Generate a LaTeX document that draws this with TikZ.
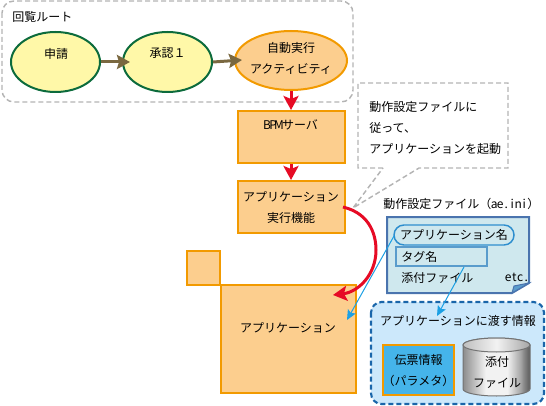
\documentclass[tikz,border=0pt]{standalone}
\usepackage{fontspec}
\setmainfont{Noto Sans CJK JP}
\usetikzlibrary{arrows.meta,shapes.geometric,calc}
\newcommand{\hw}[1]{\makebox[4.5pt][c]{#1}}
\definecolor{orangeline}{HTML}{F29A00}
\definecolor{orangefill}{HTML}{FCCE8E}
\definecolor{greenline}{HTML}{0C6B3C}
\definecolor{yellowfill}{HTML}{FFF8A8}
\definecolor{brownline}{HTML}{7A6840}
\definecolor{redline}{HTML}{E60B25}
\definecolor{grayline}{HTML}{B4B4B4}
\definecolor{notefill}{HTML}{CFE8EE}
\definecolor{noteline}{HTML}{4A74AE}
\definecolor{tagline}{HTML}{5A9CCC}
\definecolor{infofill}{HTML}{CCE8FB}
\definecolor{infoline}{HTML}{1A66AA}
\definecolor{paramfill}{HTML}{45B4EA}
\definecolor{thinblue}{HTML}{1CA0E4}
\pgfdeclarehorizontalshading{cylbody}{100bp}{
  color(0bp)=(black!45); color(25bp)=(black!45); color(42bp)=(black!5); color(58bp)=(black!5); color(68bp)=(black!35); color(70bp)=(black!45); color(75bp)=(black!65); color(100bp)=(black!20)}
\pgfdeclarehorizontalshading{cyltop}{100bp}{
  color(0bp)=(black!25); color(25bp)=(black!25); color(50bp)=(black!5); color(75bp)=(black!35); color(100bp)=(black!35)}
\tikzset{
  txt/.style={font=\fontsize{9pt}{15.75pt}\selectfont,text=black,inner sep=0pt,align=center},
  lefttxt/.style={txt,anchor=west,align=left},
  flowball/.style={ellipse,draw=greenline,fill=yellowfill,line width=1.5pt,inner sep=0pt,minimum width=66.75pt,minimum height=45pt},
  autoball/.style={ellipse,draw=orangeline,fill=orangefill,line width=1.5pt,inner sep=0pt,minimum width=84pt,minimum height=44.25pt},
  procbox/.style={rectangle,draw=orangeline,fill=orangefill,line width=1.5pt,inner sep=0pt},
  brownarrow/.style={draw=brownline,line width=2.25pt,-{Stealth[length=9.75pt,width=10.5pt,inset=1.5pt]}},
  redarrow/.style={draw=redline,line width=2.25pt,-{Stealth[length=10.5pt,width=11.25pt,inset=2.25pt]}},
  bluearrow/.style={draw=thinblue,line width=0.75pt,-{Stealth[length=7.5pt,width=6.75pt,inset=1.5pt]}},
  graydash/.style={draw=grayline,line width=1.1pt,dash pattern=on 3.75pt off 2.25pt},
}
\begin{document}
\begin{tikzpicture}[x=0.75pt,y=-0.75pt]
\useasboundingbox (0,0) rectangle (546,406);
% route frame
\draw[graydash,rounded corners=9pt] (2,1) rectangle (353,102);
\node[lefttxt] (routelabel) at (12,17) {回覧ルート};
% flow
\node[flowball] (apply) at (55.5,62) {};
\node[txt] (applytext) at (56,54) {申請};
\node[flowball] (approve) at (167.5,62) {};
\node[txt] (approvetext) at (167.5,53) {承認１};
\node[autoball] (auto) at (291,60.5) {};
\node[txt] (autotext) at (291,58) {自動実行\\アクティビティ};
\draw[brownarrow] (apply.east) -- ++(29,0) coordinate (a1);
\draw[brownarrow] (approve.east) -- ++(29,-2) coordinate (a2);
\node[procbox,minimum width=80.25pt,minimum height=39pt] (bpm) at (291,137) {};
\node[txt] (bpmtext) at (291,125) {\hw{B}\hw{P}\hw{M}サーバ};
\node[procbox,minimum width=80.25pt,minimum height=39pt] (exec) at (291,207) {};
\node[txt] (exectext) at (291,208) {アプリケーション\\実行機能};
\draw[redarrow] (auto.south) -- (bpm.north);
\draw[redarrow] (bpm.south) -- (exec.north);
% application
\node[procbox,minimum width=24.75pt,minimum height=25.5pt] (small) at (203.5,268) {};
\node[procbox,minimum width=101.25pt,minimum height=81pt] (app) at (288.5,339) {};
\node[txt] (apptext) at (288,328) {アプリケーション};
% callout
\coordinate (tip) at (353,208);
\coordinate (c1) at (383,168);
\coordinate (c2) at (419,168);
\draw[graydash] (c1) -- (358,168) -- (358,83) -- (508,83) -- (508,168) -- (c2) -- (tip) -- cycle;
\node[lefttxt] (calltext) at (369,128) {動作設定ファイルに\\従って、\\アプリケーションを起動};
% file note
\node[lefttxt] (filelabel) at (383,204) {動作設定ファイル（\hw{a}\hw{e}\hw{.}\hw{i}\hw{n}\hw{i}）};
\draw[noteline,fill=notefill,line width=1.5pt] (387,217) -- (529,217) -- (529,283) -- (512,293) -- (387,293) -- cycle;
\draw[noteline,fill=tagline,line width=0.75pt] (529,283) -- (514,286) -- (512,293) -- cycle;
\node[draw=thinblue!60!noteline,fill=notefill,line width=1.1pt,rounded corners=7.5pt,minimum width=90pt,minimum height=15pt,txt] (appname) at (454,235) {アプリケーション名};
\node[draw=tagline,fill=notefill,line width=1.5pt,minimum width=68.25pt,minimum height=14.25pt,inner sep=0pt] (tag) at (441.5,256.5) {};
\node[lefttxt] (tagtext) at (401,257) {タグ名};
\node[lefttxt] (attachtext) at (401,278) {添付ファイル};
\node[lefttxt] (etc) at (505,277) {\hw{e}\hw{t}\hw{c}\hw{.}};
% info panel
\draw[draw=infoline,fill=infofill,line width=1.6pt,dash pattern=on 3.75pt off 2.25pt,rounded corners=8pt] (371,302) rectangle (544,404);
\node[txt] (infolabel) at (458,321) {アプリケーションに渡す情報};
\node[procbox,fill=paramfill,minimum width=53.25pt,minimum height=37.5pt] (param) at (418.5,370) {};
\node[txt] (paramtext) at (418.5,371) {伝票情報\\（パラメタ）};
% cylinder
\path[shading=cylbody,draw=black!55,line width=0.75pt] (463,345) arc[start angle=180,end angle=360,x radius=33.5,y radius=7] -- (530,389) arc[start angle=0,end angle=180,x radius=33.5,y radius=7] -- cycle;
\path[shading=cyltop,draw=black!55,line width=0.75pt] (463,345) arc[start angle=180,end angle=540,x radius=33.5,y radius=7];
\node[txt] (cyl) at (497,372.5) {添付\\ファイル};
% blue pointers
\coordinate (b1) at (394,236);
\coordinate (b2) at (347,320);
\coordinate (b3) at (464,267);
\coordinate (b4) at (437,316);
\draw[bluearrow] (b1) -- (b2);
\draw[bluearrow] (b3) -- (b4);
% red curve
\coordinate (r1) at (343,207);
\coordinate (r2) at (333,295);
\draw[redarrow] (r1) .. controls (372,214) and (376,238) .. (376,250) .. controls (376,275) and (358,292) .. (r2);
\end{tikzpicture}
\end{document}
